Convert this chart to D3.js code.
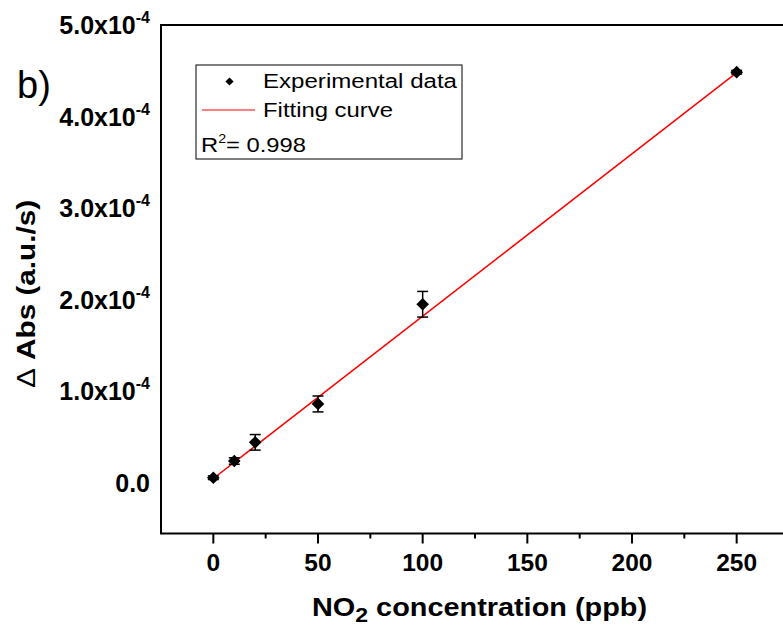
<!DOCTYPE html>
<html>
<head>
<meta charset="utf-8">
<script src="https://cdn.jsdelivr.net/npm/d3@7"></script>
<style>
  body { margin: 0; background: #fff; }
  svg { display: block; font-family: Arial, 'Liberation Sans', sans-serif; }
</style>
</head>
<body>
<div id="chart"></div>
<script>
// NO2 concentration (ppb) vs delta Abs (a.u./s)
const concentration = [0, 10, 20, 50, 100, 250];
const deltaAbs = [0.059e-4, 0.241e-4, 0.445e-4, 0.864e-4, 1.952e-4, 4.485e-4];
const deltaErr = [0.02e-4, 0.035e-4, 0.085e-4, 0.087e-4, 0.14e-4, 0.02e-4];

// fitted straight line, end points
const fitX = [0, 250];
const fitY = [0.05e-4, 4.48e-4];

const xTicks = [0, 50, 100, 150, 200, 250];
const xMinorTicks = [25, 75, 125, 175, 225];
const yTicks = [0, 1e-4, 2e-4, 3e-4, 4e-4, 5e-4];
const rSquared = '0.998';

const width = 783, height = 631;
const margin = { top: 25, left: 161, right: -6, bottom: 97.5 };

const svg = d3.select('#chart').append('svg')
    .attr('width', width)
    .attr('height', height);

const xScale = d3.scaleLinear()
    .domain([-25, 275])
    .range([margin.left, width - margin.right]);

const yScale = d3.scaleLinear()
    .domain([-0.55e-4, 5.0e-4])
    .range([height - margin.bottom, margin.top]);

const data = concentration.map((c, i) => ({ x: c, y: deltaAbs[i], e: deltaErr[i] }));

// frame
svg.append('rect')
    .attr('x', xScale(-25))
    .attr('y', yScale(5e-4))
    .attr('width', xScale(275) - xScale(-25))
    .attr('height', yScale(-0.55e-4) - yScale(5e-4))
    .attr('fill', 'none')
    .attr('stroke', '#000')
    .attr('stroke-width', 2);

// x axis ticks
const xAxisY = yScale(-0.55e-4);
svg.append('g').selectAll('line.major')
    .data(xTicks).enter().append('line')
    .attr('x1', d => xScale(d)).attr('x2', d => xScale(d))
    .attr('y1', xAxisY).attr('y2', xAxisY + 10)
    .attr('stroke', '#000').attr('stroke-width', 2);

svg.append('g').selectAll('line.minor')
    .data(xMinorTicks).enter().append('line')
    .attr('x1', d => xScale(d)).attr('x2', d => xScale(d))
    .attr('y1', xAxisY).attr('y2', xAxisY + 5)
    .attr('stroke', '#000').attr('stroke-width', 2);

svg.append('g').selectAll('text')
    .data(xTicks).enter().append('text')
    .attr('x', d => xScale(d))
    .attr('y', xAxisY + 37)
    .attr('text-anchor', 'middle')
    .style('font-weight', 'bold')
    .style('font-size', '24.5px')
    .text(d => d);

// y tick labels, e.g. 5.0x10^-4
const yLab = svg.append('g').selectAll('text')
    .data(yTicks).enter().append('text')
    .attr('x', 150)
    .attr('y', d => yScale(d) + 9)
    .attr('text-anchor', 'end')
    .style('font-weight', 'bold')
    .style('font-size', '25px');

yLab.each(function(d) {
  const t = d3.select(this);
  if (d === 0) {
    t.text('0.0');
  } else {
    t.append('tspan').text((d / 1e-4).toFixed(1) + 'x10');
    t.append('tspan').attr('dy', -11).style('font-size', '16px').text('-4');
  }
});

// axis titles
const yTitle = svg.append('text')
    .attr('transform', 'translate(' + 35 + ',' + 294 + ') rotate(-90)')
    .attr('text-anchor', 'middle')
    .attr('textLength', 188)
    .attr('lengthAdjust', 'spacingAndGlyphs')
    .style('font-weight', 'bold')
    .style('font-size', '26px');
yTitle.append('tspan').style('font-weight', 'normal').text('\u0394');
yTitle.append('tspan').text(' Abs (a.u./s)');

const xTitle = svg.append('text')
    .attr('x', 312)
    .attr('y', 616)
    .attr('textLength', 335)
    .attr('lengthAdjust', 'spacingAndGlyphs')
    .style('font-weight', 'bold')
    .style('font-size', '25px');
xTitle.append('tspan').text('NO');
xTitle.append('tspan').attr('dy', 6).style('font-size', '20px').text('2');
xTitle.append('tspan').attr('dy', -6).text(' concentration (ppb)');

// panel label
svg.append('text')
    .attr('x', 17)
    .attr('y', 98)
    .style('font-size', '38px')
    .text('b)');

// fit line
svg.append('line')
    .attr('x1', xScale(fitX[0])).attr('y1', yScale(fitY[0]))
    .attr('x2', xScale(fitX[1])).attr('y2', yScale(fitY[1]))
    .attr('stroke', '#ff0000')
    .attr('stroke-width', 1.5);

// error bars
const err = svg.append('g').selectAll('g')
    .data(data).enter().append('g')
    .attr('stroke', '#000')
    .attr('stroke-width', 1.5);

err.append('line')
    .attr('x1', d => xScale(d.x)).attr('x2', d => xScale(d.x))
    .attr('y1', d => yScale(d.y - d.e)).attr('y2', d => yScale(d.y + d.e));
err.append('line')
    .attr('x1', d => xScale(d.x) - 5.5).attr('x2', d => xScale(d.x) + 5.5)
    .attr('y1', d => yScale(d.y + d.e)).attr('y2', d => yScale(d.y + d.e));
err.append('line')
    .attr('x1', d => xScale(d.x) - 5.5).attr('x2', d => xScale(d.x) + 5.5)
    .attr('y1', d => yScale(d.y - d.e)).attr('y2', d => yScale(d.y - d.e));

// points as diamonds
const diamond = d3.symbol().type(d3.symbolSquare).size(80);
svg.append('g').selectAll('path')
    .data(data).enter().append('path')
    .attr('d', diamond)
    .attr('transform', d => 'translate(' + xScale(d.x) + ',' + yScale(d.y) + ') rotate(45)')
    .attr('fill', '#000');

// legend
const legend = svg.append('g');
legend.append('rect')
    .attr('x', 196).attr('y', 65)
    .attr('width', 266).attr('height', 94)
    .attr('fill', 'none')
    .attr('stroke', '#000')
    .attr('stroke-width', 1);

legend.append('path')
    .attr('d', d3.symbol().type(d3.symbolSquare).size(34))
    .attr('transform', 'translate(229.5,81.5) rotate(45)')
    .attr('fill', '#000');

legend.append('line')
    .attr('x1', 202).attr('x2', 255)
    .attr('y1', 110).attr('y2', 110)
    .attr('stroke', '#ff0000')
    .attr('stroke-width', 1);

legend.append('text')
    .attr('x', 263).attr('y', 88)
    .attr('textLength', 194)
    .attr('lengthAdjust', 'spacingAndGlyphs')
    .style('font-size', '20px')
    .text('Experimental data');

legend.append('text')
    .attr('x', 263).attr('y', 117)
    .attr('textLength', 130)
    .attr('lengthAdjust', 'spacingAndGlyphs')
    .style('font-size', '20px')
    .text('Fitting curve');

const r2 = legend.append('text')
    .attr('x', 201).attr('y', 152)
    .attr('textLength', 105)
    .attr('lengthAdjust', 'spacingAndGlyphs')
    .style('font-size', '20px');
r2.append('tspan').text('R');
r2.append('tspan').attr('dy', -9).style('font-size', '12px').text('2');
r2.append('tspan').attr('dy', 9).text('= ' + rSquared);
</script>
</body>
</html>
